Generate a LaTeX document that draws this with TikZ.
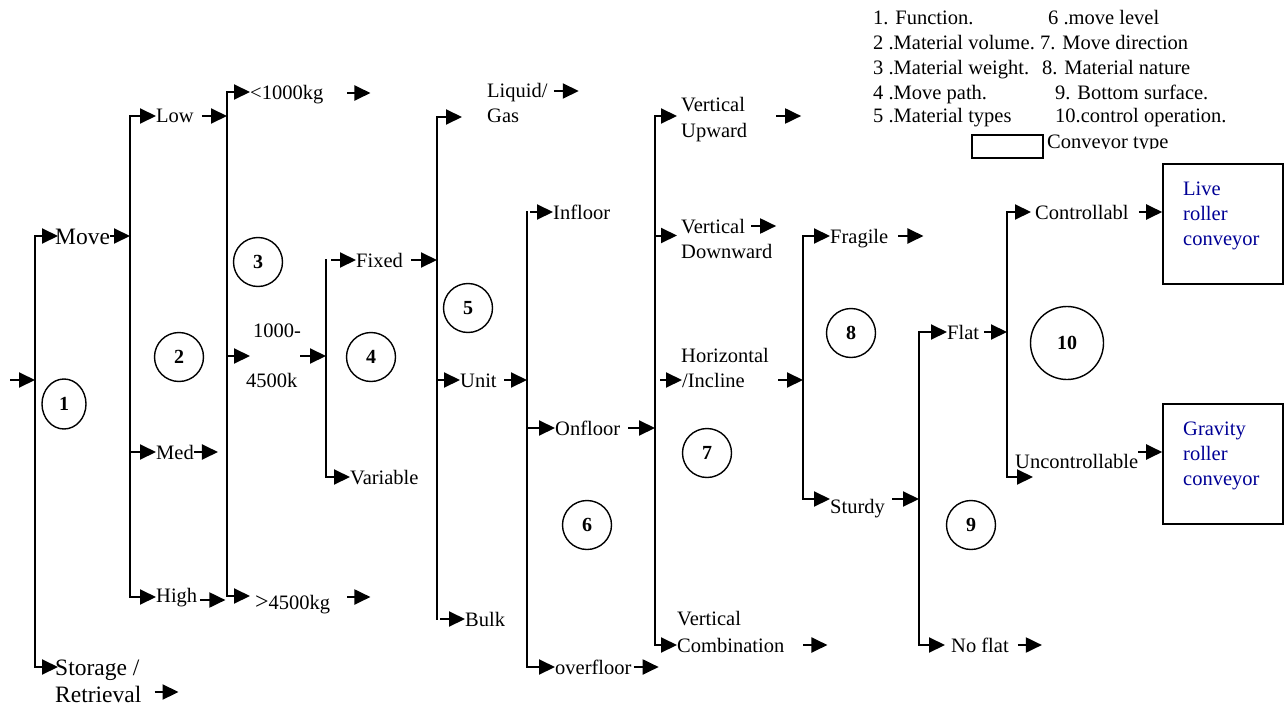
\documentclass[tikz,border=0pt]{standalone}
\usepackage{fontspec}
\setmainfont{Liberation Serif}
\usetikzlibrary{arrows.meta,shapes.geometric}
\definecolor{navyt}{RGB}{0,0,150}
\begin{document}
\begin{tikzpicture}[x=1pt,y=-1pt,
  lbl/.style={anchor=west, inner sep=0pt, text height=14pt, text depth=0pt, font=\fontsize{20.5}{25}\selectfont},
  lblL/.style={anchor=west, inner sep=0pt, text height=16pt, text depth=0pt, font=\fontsize{23.5}{28}\selectfont},
  arr/.style={line width=2pt, -{Triangle[length=16pt,width=15pt]}},
  vline/.style={line width=2pt, line cap=rect},
  num/.style={draw, circle, line width=1.4pt, minimum size=49pt, inner sep=0pt, font=\bfseries\fontsize{20}{20}\selectfont},
  cbox/.style={draw, line width=1.6pt, minimum width=120pt, minimum height=120pt, inner sep=0pt},
  blu/.style={lbl, text=navyt}
]
\fill[white] (0,0) rectangle (1287,706);
\useasboundingbox (0,0) rectangle (1287,706);

% column coordinates
\coordinate (c1t) at (35,236);   \coordinate (c1b) at (35,667);
\coordinate (c2t) at (130,116);  \coordinate (c2b) at (130,597);
\coordinate (c3t) at (227,92);   \coordinate (c3b) at (227,596);
\coordinate (c4t) at (326,260);  \coordinate (c4b) at (326,477);
\coordinate (c5t) at (437,117);  \coordinate (c5b) at (437,619);
\coordinate (c6t) at (527,212);  \coordinate (c6b) at (527,667);
\coordinate (c7t) at (655,116);  \coordinate (c7b) at (655,645);
\coordinate (c8t) at (803,236);  \coordinate (c8b) at (803,499);
\coordinate (c9t) at (919,332);  \coordinate (c9b) at (919,645);
\coordinate (c10t) at (1007,212); \coordinate (c10b) at (1007,477);
\foreach \i in {1,...,10} { \draw[vline] (c\i t) -- (c\i b); }

% level 1
\coordinate (src) at (10,380);
\draw[arr] (src) -- (src -| c1t);
\node[lblL] (move) at (55,236) {Move};
\draw[arr] (c1t) -- ([xshift=3pt]move.west);
\draw[arr] (move.east) -- (move.east -| c2t);
\node[lblL] (stor) at (55,667) {Storage /};
\draw[arr] (c1b) -- ([xshift=3pt]stor.west);
\node[lblL] (retr) at (55,694) {Retrieval};
\draw[arr] ([xshift=13pt,yshift=2pt]retr.east) -- ++(24,0);
\node[num, ellipse, minimum width=44pt, minimum height=50pt] (n1) at (64,404) {1};

% level 2
\node[lbl] (low) at (156,116) {Low};
\draw[arr] (c2t) -- (low.west);
\draw[arr] ([xshift=8pt]low.east) -- (low.east -| c3t);
\node[lbl] (med) at (156,452) {Med};
\draw[arr] (c2t |- med.west) -- (med.west);
\draw[arr] (med.east) -- ++(24,0);
\node[lbl] (high) at (156,595) {High};
\draw[arr] (c2b) -- (c2b -| high.west);
\draw[arr] ([xshift=3pt,yshift=-5pt]high.east) -- ++(25,0);
\node[num] (n2) at (179,357) {2};

% level 3
\node[lbl] (lt1000) at (250,93) {<1000kg};
\draw[arr] (c3t) -- (c3t -| lt1000.west);
\draw[arr] ([xshift=24pt]lt1000.east) -- ++(23,0);
\node[lbl] (k1) at (253,330) {1000-};
\node[lbl] (k2) at (246,380) {4500k};
\coordinate (m3) at (227,356);
\draw[arr] (m3) -- ++(23,0);
\draw[arr] ([xshift=-26pt]m3 -| c4t) -- (m3 -| c4t);
\node[lbl] (gt4500) at (255,602) {{\fontsize{24}{25}\selectfont >}4500kg};
\draw[arr] (c3b) -- ++(23,0);
\draw[arr] ([xshift=17pt,yshift=5pt]gt4500.east) -- ++(23,0);
\node[num] (n3) at (258,262) {3};

% level 4
\node[lbl] (fixed) at (356,260) {Fixed};
\draw[arr] ([xshift=5pt]c4t) -- (fixed.west);
\draw[arr] ([xshift=8pt]fixed.east) -- (fixed.east -| c5t);
\node[lbl] (var) at (350,477) {Variable};
\draw[arr] (c4b) -- (var.west);
\node[num] (n4) at (371,357) {4};

% level 5
\node[lbl] (liq) at (487,91) {Liquid/};
\node[lbl] (gas) at (487,115.5) {Gas};
\draw[arr] (c5t) -- ++(25,0);
\draw[arr] ([xshift=6pt]liq.east) -- ++(25,0);
\node[lbl] (unit) at (460,380) {Unit};
\draw[arr] (c5t |- unit.west) -- (unit.west);
\draw[arr] ([xshift=7.5pt]unit.east) -- (unit.east -| c6t);
\node[lbl] (bulk) at (465,619) {Bulk};
\draw[arr] ([xshift=3pt]c5b) -- (bulk.west);
\node[num] (n5) at (468,308) {5};

% level 6
\node[lbl] (infl) at (553,212) {Infloor};
\draw[arr] ([xshift=3pt]c6t) -- (infl.west);
\node[lbl] (onfl) at (555,428) {Onfloor};
\draw[arr] (c6t |- onfl.west) -- (onfl.west);
\draw[arr] ([xshift=8pt]onfl.east) -- (onfl.east -| c7t);
\node[lbl] (ovfl) at (555,667) {overfloor};
\draw[arr] (c6b) -- (ovfl.west);
\draw[arr] ([xshift=2pt]ovfl.east) -- ++(25,0);
\node[num] (n6) at (587,525) {6};

% level 7
\node[lbl] (vu1) at (681,104.5) {Vertical};
\node[lbl] (vu2) at (681,130) {Upward};
\draw[arr] (c7t) -- ++(22,0);
\draw[arr] ([xshift=31pt]vu1.east |- c7t) -- ++(25,0);
\node[lbl] (vd1) at (681,226) {Vertical};
\node[lbl] (vd2) at (681,251.5) {Downward};
\draw[arr] (c7t |- vd2.west) ++(0,-16) -- ++(22,0);
\draw[arr] ([xshift=6pt]vd1.east) -- ++(25,0);
\node[lbl] (hz1) at (681,355) {Horizontal};
\node[lbl] (hz2) at (682,380) {/Incline};
\draw[arr] ([xshift=-22pt]hz2.west) -- (hz2.west);
\draw[arr] ([xshift=33pt]hz2.east) -- (hz2.east -| c8t);
\node[lbl] (vc1) at (677,618.5) {Vertical};
\node[lbl] (vc2) at (677,645) {Combination};
\draw[arr] (c7b) -- (vc2.west);
\draw[arr] ([xshift=19pt]vc2.east) -- ++(24,0);
\node[num] (n7) at (707,453) {7};

% level 8
\node[lbl] (frag) at (830,236) {Fragile};
\draw[arr] (c8t) -- (frag.west);
\draw[arr] ([xshift=10pt]frag.east) -- ++(25,0);
\node[lbl] (stur) at (830,506) {Sturdy};
\draw[arr] (c8b) -- (c8b -| stur.west);
\draw[arr] ([xshift=7pt,yshift=7pt]stur.east) -- ([yshift=7pt]stur.east -| c9t);
\node[num] (n8) at (851,333) {8};

% level 9
\node[lbl] (flat) at (947,332) {Flat};
\draw[arr] (c9t) -- (flat.west);
\draw[arr] ([xshift=5pt]flat.east) -- (flat.east -| c10t);
\node[lbl] (nofl) at (951,645) {No flat};
\draw[arr] (c9b) -- ([xshift=-6pt]nofl.west);
\draw[arr] ([xshift=9pt]nofl.east) -- ++(24,0);
\node[num] (n9) at (971,525) {9};

% level 10
\node[cbox] (live) at (1223,224) {};
\node[cbox] (grav) at (1223,464) {};
\node[lbl] (ctrl) at (1035,212) {Controllabl};
\draw[arr] (c10t) -- ([xshift=-4pt]ctrl.west);
\draw[arr] ([xshift=10pt]ctrl.east) -- (ctrl.east -| live.west);
\node[lbl] (unc) at (1015,461.5) {Uncontrollable};
\draw[arr] (c10b) -- ++(26,0);
\draw[arr] ([yshift=9.5pt]unc.east) -- ([yshift=9.5pt]unc.east -| grav.west);
\node[num, minimum size=73pt] (n10) at (1067,343) {10};

\node[blu] (lv1) at (1183,188.5) {Live};
\node[blu] (lv2) at (1183,213.5) {roller};
\node[blu] (lv3) at (1183,238.5) {conveyor};
\node[blu] (gv1) at (1183,428) {Gravity};
\node[blu] (gv2) at (1183,453) {roller};
\node[blu] (gv3) at (1183,478) {conveyor};

% legend
\node[lbl] (lg1) at (873,18) {1. Function.};
\node[lbl] (lg2) at (873,43) {2 .Material volume.};
\node[lbl] (lg3) at (873,68) {3 .Material weight.};
\node[lbl] (lg4) at (873,93) {4 .Move path.};
\node[lbl] (lg5) at (873,116) {5 .Material types};
\node[lbl] (lg6) at (1048,18) {6 .move level};
\node[lbl] (lg7) at (1040,43) {7. Move direction};
\node[lbl] (lg8) at (1042,68) {8. Material nature};
\node[lbl] (lg9) at (1055,93) {9. Bottom surface.};
\node[lbl] (lg10) at (1055,116) {10.control operation.};
\node[draw, line width=1.5pt, minimum width=71pt, minimum height=23pt, inner sep=0pt] (lgbox) at (1007.5,146.5) {};
\begin{scope}
\clip (1044,125) rectangle (1230,148);
\node[lbl] (ctype) at (1047,142) {Conveyor type};
\end{scope}
\end{tikzpicture}
\end{document}
